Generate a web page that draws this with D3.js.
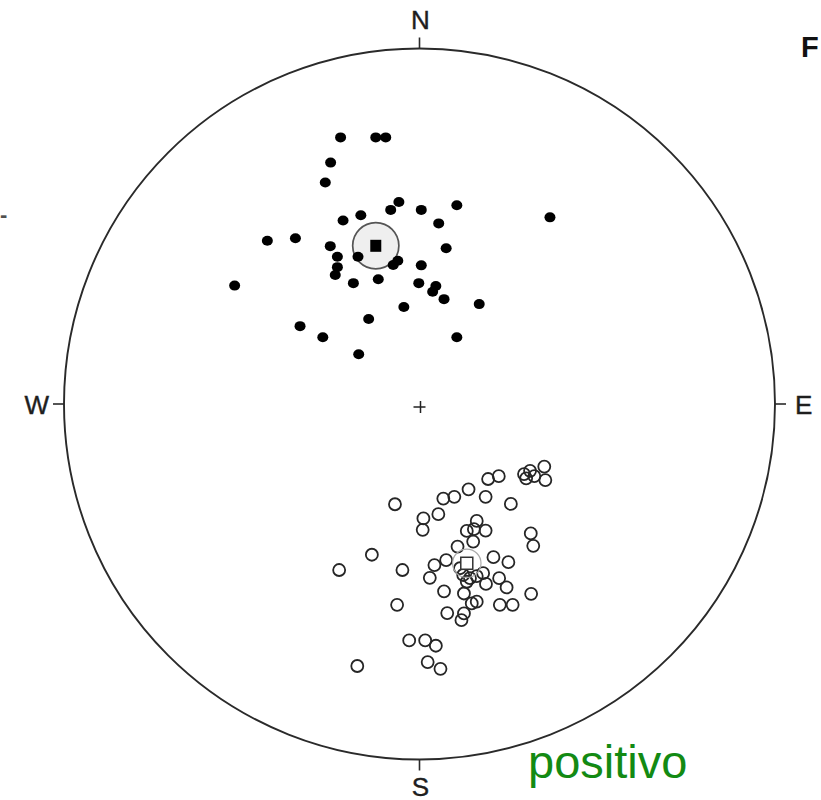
<!DOCTYPE html>
<html><head><meta charset="utf-8">
<script src="https://cdn.jsdelivr.net/npm/d3@7"></script>
<style>body{margin:0;background:#fff}svg{display:block}</style>
</head><body>
<script>
// Stereonet coordinates: east / north in percent of net radius
const filledE = [-22.2,-12.3,-9.5,-25.0,-26.5,-5.8,-8.1,0.5,10.5,-16.5,-21.5,5.4,36.7,-42.8,-34.9,-25.1,7.5,-23.1,-17.3,-6.1,-7.4,-23.1,-23.7,0.5,-52.0,-18.6,-11.6,-0.2,4.6,3.7,6.9,16.8,-4.4,-14.3,-33.6,-27.2,10.5,-17.1];
const filledN = [75.0,75.0,75.0,67.9,62.3,56.8,54.6,54.6,55.9,53.1,51.6,50.8,52.5,45.9,46.6,44.4,43.8,41.4,41.4,40.3,39.1,38.5,36.3,39.0,33.3,34.0,35.1,34.0,33.2,31.6,29.5,28.1,27.3,23.9,21.9,18.8,18.8,14.0];
const openE = [-6.9,-22.6,-13.4,-4.8,-6.3,-17.5,-2.9,1.6,4.6,2.3,5.9,1.1,0.9,5.3,6.7,9.8,13.8,18.6,19.3,22.3,25.7,29.4,30.0,32.3,35.1,35.4,31.1,31.3,32.0,31.4,16.1,15.3,18.6,13.3,15.1,10.7,7.5,4.2,2.9,20.8,25.0,22.4,24.5,6.9,7.8,11.8,12.5,16.1,22.6,26.2,12.5,14.7,12.3,14.2,16.1,13.3,17.9,11.4,18.7];
const openN = [-28.2,-46.7,-42.4,-46.7,-56.5,-73.7,-66.5,-66.5,-68.0,-72.6,-74.5,-32.2,-35.4,-31.0,-26.6,-26.1,-24.0,-26.1,-21.1,-20.3,-28.1,-19.7,-20.9,-20.3,-17.6,-21.4,-18.8,-36.4,-39.9,-53.4,-32.9,-35.2,-35.6,-35.7,-38.7,-40.1,-43.9,-45.3,-48.9,-43.1,-44.5,-49.0,-51.6,-52.7,-58.8,-60.8,-58.9,-55.6,-56.5,-56.5,-53.3,-56.1,-48.1,-49.0,-48.4,-50.0,-47.6,-46.2,-50.6];
const meanFilled = {e: -12.3, n: 44.5, a95: 6.5};
const meanOpen = {e: 13.3, n: -44.8, a95: 4.0};
const compass = ["N","E","S","W"];

const W = 821, H = 800;
const cx = 419.5, cy = 404, R = 355.5;
const x = d3.scaleLinear().domain([-100,100]).range([cx-R, cx+R]);
const y = d3.scaleLinear().domain([-100,100]).range([cy+R, cy-R]);
const rs = d3.scaleLinear().domain([0,100]).range([0,R]);

const svg = d3.select("body").append("svg").attr("width",W).attr("height",H);
const font = "Liberation Sans, Arial, sans-serif";

// primitive circle
svg.append("circle").attr("cx",x(0)).attr("cy",y(0)).attr("r",rs(100))
  .attr("fill","none").attr("stroke","#2a2a2a").attr("stroke-width",1.9);

// centre cross
const cs = 6;
svg.append("path").attr("d",`M${x(0)-cs},${y(0)+3}H${x(0)+cs}M${x(0)+1},${y(0)+3-cs}V${y(0)+3+cs}`)
  .attr("stroke","#222").attr("stroke-width",1.5);

// compass ticks and labels
const dirs = [{e:0,n:1},{e:1,n:0},{e:0,n:-1},{e:-1,n:0}];
const tickLen = 11;
dirs.forEach((d,i)=>{
  const px = x(d.e*100), py = y(d.n*100);
  svg.append("line").attr("x1",px).attr("y1",py).attr("x2",px+d.e*tickLen).attr("y2",py-d.n*tickLen)
    .attr("stroke","#2a2a2a").attr("stroke-width",1.6);
  svg.append("text").attr("x", d.e===0 ? px+1 : (d.e>0 ? px+tickLen+9 : px-tickLen-4))
    .attr("y", d.n===0 ? py+10 : (d.n>0 ? py-tickLen-9 : py+tickLen+25))
    .attr("text-anchor", d.e===0 ? "middle" : (d.e>0 ? "start" : "end"))
    .attr("font-family",font).attr("font-size",26)
    .attr("fill","#1e1e1e").attr("stroke","#1e1e1e").attr("stroke-width",0.4).text(compass[i]);
});

// panel letters
svg.append("text").attr("x",801).attr("y",57).attr("font-family",font)
  .attr("font-size",29).attr("font-weight","bold").attr("fill","#111").text("F");
svg.append("text").attr("x",0).attr("y",222).attr("font-family",font)
  .attr("font-size",22).attr("font-weight","bold").attr("fill","#333").attr("opacity",0.85).text("-");

const filled = filledE.map((e,i)=>({e, n: filledN[i]}));
const open = openE.map((e,i)=>({e, n: openN[i]}));

// mean confidence circle (filled set)
svg.append("circle").attr("cx",x(meanFilled.e)).attr("cy",y(meanFilled.n)).attr("r",rs(meanFilled.a95))
  .attr("fill","#efefef").attr("stroke","#555").attr("stroke-width",1.7);

svg.append("g").selectAll("ellipse").data(filled).join("ellipse")
  .attr("cx",d=>x(d.e)).attr("cy",d=>y(d.n)).attr("rx",5.5).attr("ry",5).attr("fill","#000");

svg.append("rect").attr("x",x(meanFilled.e)-5.5).attr("y",y(meanFilled.n)-6)
  .attr("width",11).attr("height",12).attr("fill","#000");

// open set
svg.append("g").selectAll("circle").data(open).join("circle")
  .attr("cx",d=>x(d.e)).attr("cy",d=>y(d.n)).attr("r",6)
  .attr("fill","none").attr("stroke","#262626").attr("stroke-width",1.8);

svg.append("circle").attr("cx",x(meanOpen.e)).attr("cy",y(meanOpen.n)).attr("r",rs(meanOpen.a95))
  .attr("fill","none").attr("stroke","#aaa").attr("stroke-width",1.2);
svg.append("rect").attr("x",x(meanOpen.e)-6).attr("y",y(meanOpen.n)-6)
  .attr("width",12).attr("height",12).attr("fill","#fff").attr("stroke","#333").attr("stroke-width",1.5);

svg.append("text").attr("x",528).attr("y",778).attr("font-family",font)
  .attr("font-size",47).attr("fill","#138a13").text("positivo");
</script>
</body></html>
